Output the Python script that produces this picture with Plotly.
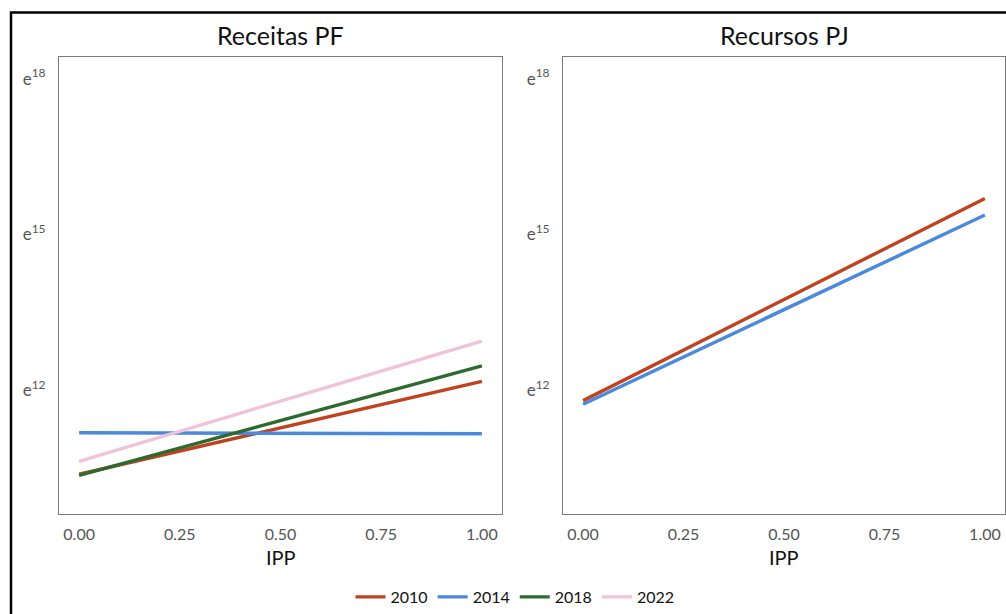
import plotly.graph_objects as go

# ---- data (log values, natural log) ----
years = ["2010", "2014", "2018", "2022"]
ipp = [0.0, 1.0]
receitas_pf = {
    "2010": [10.37, 12.16],
    "2014": [11.17, 11.15],
    "2018": [10.35, 12.46],
    "2022": [10.62, 12.94],
}
recursos_pj = {
    "2010": [11.79, 15.69],
    "2014": [11.72, 15.37],
}
panel_titles = ["Receitas PF", "Recursos PJ"]
x_ticks = [0.0, 0.25, 0.5, 0.75, 1.0]
x_ticktext = ["0.00", "0.25", "0.50", "0.75", "1.00"]
y_ticks = [12, 15, 18]
y_ticktext = ["e<sup>12</sup>", "e<sup>15</sup>", "e<sup>18</sup>"]
x_title = "IPP"

colors = {"2010": "#BF4320", "2014": "#4A89DC", "2018": "#2D6A2D", "2022": "#F0C3D8"}

W, H = 1006, 614
FONT = "Lato"

def px(x):
    return x / W

def py(y):
    return 1 - y / H

fig = go.Figure()

for yr in years:
    if yr in receitas_pf:
        fig.add_trace(go.Scatter(x=ipp, y=receitas_pf[yr], mode="lines", name=yr,
                                 line=dict(color=colors[yr], width=3.4),
                                 xaxis="x", yaxis="y", legendgroup=yr, showlegend=True))
for yr in years:
    if yr in recursos_pj:
        fig.add_trace(go.Scatter(x=ipp, y=recursos_pj[yr], mode="lines", name=yr,
                                 line=dict(color=colors[yr], width=3.4),
                                 xaxis="x2", yaxis="y2", legendgroup=yr, showlegend=False))

xdom1 = [px(59), px(502)]
xdom2 = [px(563), px(1005)]
ydom = [py(515), py(57)]

axis_common = dict(showgrid=False, zeroline=False, showline=True, mirror=True,
                   linecolor="#7a7a7a", linewidth=1.2, ticks="",
                   automargin=False)
xfont = dict(family=FONT, size=16, color="#555555")
yfont = dict(family=FONT, size=17, color="#555555")

fig.update_layout(
    width=W, height=H,
    margin=dict(l=0, r=0, t=0, b=0),
    paper_bgcolor="white", plot_bgcolor="white",
    font=dict(family=FONT),
    xaxis=dict(domain=xdom1, range=[-0.05, 1.05], tickvals=x_ticks, ticktext=x_ticktext,
               anchor="y", ticklabelstandoff=6, tickfont=xfont, **axis_common),
    yaxis=dict(domain=ydom, range=[9.6, 18.42], tickvals=y_ticks, ticktext=y_ticktext,
               anchor="x", ticklabelstandoff=9, tickfont=yfont, **axis_common),
    xaxis2=dict(domain=xdom2, range=[-0.05, 1.05], tickvals=x_ticks, ticktext=x_ticktext,
                anchor="y2", ticklabelstandoff=6, tickfont=xfont, **axis_common),
    yaxis2=dict(domain=ydom, range=[9.6, 18.42], tickvals=y_ticks, ticktext=y_ticktext,
                anchor="x2", ticklabelstandoff=9, tickfont=yfont, **axis_common),
    legend=dict(orientation="h", x=px(515), xanchor="center", y=py(598), yanchor="middle",
                font=dict(family=FONT, size=16, color="#111111"), bgcolor="rgba(0,0,0,0)"),
    showlegend=True,
)

annotations = []
for i, t in enumerate(panel_titles):
    dom = xdom1 if i == 0 else xdom2
    annotations.append(dict(text=t, x=(dom[0] + dom[1]) / 2, y=py(35), xref="paper", yref="paper",
                            xanchor="center", yanchor="middle", showarrow=False,
                            font=dict(family=FONT, size=25, color="#111111")))
    annotations.append(dict(text=x_title, x=(dom[0] + dom[1]) / 2, y=py(558), xref="paper", yref="paper",
                            xanchor="center", yanchor="middle", showarrow=False,
                            font=dict(family=FONT, size=20, color="#111111")))
fig.update_layout(annotations=annotations)

# outer black frame (cropped at right and bottom)
fig.add_shape(type="rect", xref="paper", yref="paper",
              x0=px(11), x1=1.2, y0=-0.2, y1=py(12.5),
              line=dict(color="black", width=2.5), fillcolor="rgba(0,0,0,0)", layer="above")

fig.write_html("out.html",
               config={"displayModeBar": False},
               post_script="document.body.style.margin='0';document.body.style.overflow='hidden';")
